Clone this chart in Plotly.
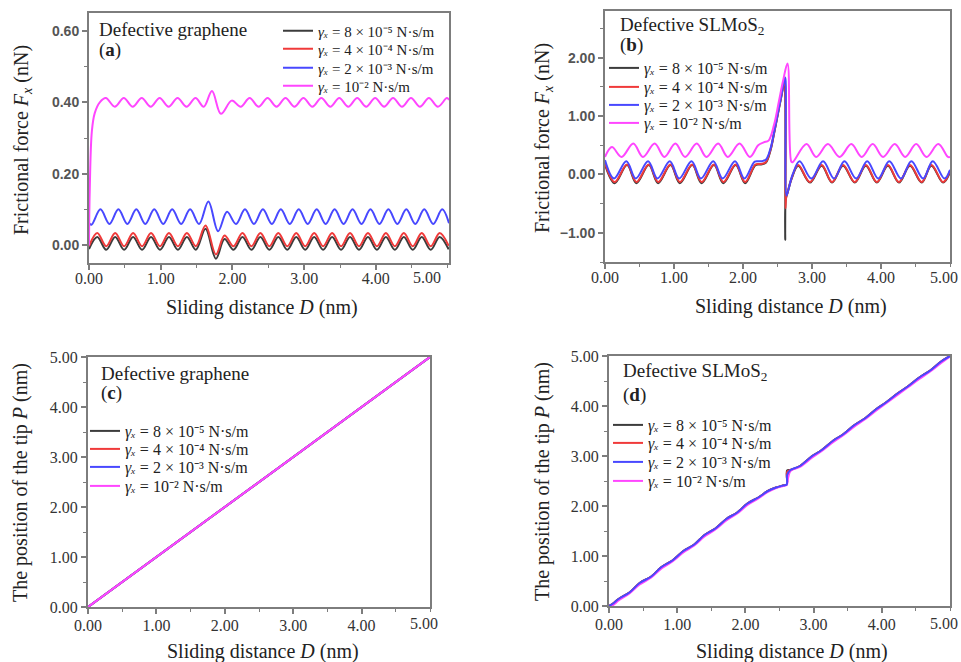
import plotly.graph_objects as go

# ---------------- data ----------------
LEGEND_NAMES = [
    "<i>γₓ</i> = 8 × 10⁻⁵ N·s/m",
    "<i>γₓ</i> = 4 × 10⁻⁴ N·s/m",
    "<i>γₓ</i> = 2 × 10⁻³ N·s/m",
    "<i>γₓ</i> = 10⁻² N·s/m",
]
COLORS = ["#3c3c3c", "#f03a3a", "#4848ff", "#ff46ff"]

X_TICKS = [0, 1, 2, 3, 4]
X_TICK_TEXT = ["0.00", "1.00", "2.00", "3.00", "4.00"]
LAST_X_TICK = "5.00"

# (a) defective graphene, frictional force
a_rb_x = [0.0, 0.115, 0.24, 0.365, 0.49, 0.615, 0.74, 0.865, 0.99, 1.115, 1.24, 1.365, 1.49,
          1.625, 1.77, 1.89, 2.015, 2.14, 2.265, 2.39, 2.515, 2.64, 2.765, 2.89, 3.015, 3.14,
          3.265, 3.39, 3.515, 3.64, 3.765, 3.89, 4.015, 4.14, 4.265, 4.39, 4.515, 4.64, 4.765,
          4.89, 5.015]
a_black_y = [-0.010, 0.024, -0.012, 0.024, -0.012, 0.024, -0.012, 0.024, -0.012, 0.024, -0.012,
             0.024, -0.012, 0.047, -0.037, 0.018, -0.012, 0.024, -0.012, 0.024, -0.012, 0.024,
             -0.012, 0.024, -0.012, 0.024, -0.012, 0.024, -0.012, 0.024, -0.012, 0.024, -0.012,
             0.024, -0.012, 0.024, -0.012, 0.024, -0.012, 0.024, -0.011]
a_red_y = [-0.002, 0.035, -0.002, 0.035, -0.002, 0.035, -0.002, 0.035, -0.002, 0.035, -0.002,
           0.035, -0.002, 0.056, -0.025, 0.028, -0.002, 0.035, -0.002, 0.035, -0.002, 0.035,
           -0.002, 0.035, -0.002, 0.035, -0.002, 0.035, -0.002, 0.035, -0.002, 0.035, -0.002,
           0.035, -0.002, 0.035, -0.002, 0.035, -0.002, 0.035, -0.001]
a_blue_x = [0.0, 0.035, 0.16, 0.285, 0.41, 0.535, 0.66, 0.785, 0.91, 1.035, 1.16, 1.285, 1.41,
            1.535, 1.665, 1.80, 1.925, 2.05, 2.175, 2.30, 2.425, 2.55, 2.675, 2.80, 2.925, 3.05,
            3.175, 3.30, 3.425, 3.55, 3.675, 3.80, 3.925, 4.05, 4.175, 4.30, 4.425, 4.55, 4.675,
            4.80, 4.925, 5.02]
a_blue_y = [0.062, 0.058, 0.101, 0.060, 0.101, 0.060, 0.101, 0.060, 0.101, 0.060, 0.101, 0.060,
            0.101, 0.060, 0.123, 0.040, 0.094, 0.060, 0.101, 0.060, 0.101, 0.060, 0.101, 0.060,
            0.101, 0.060, 0.101, 0.060, 0.101, 0.060, 0.101, 0.060, 0.101, 0.060, 0.101, 0.060,
            0.101, 0.060, 0.101, 0.060, 0.101, 0.062]
a_pink_x = [0.0, 0.01, 0.04, 0.08, 0.15, 0.235, 0.36, 0.485, 0.61, 0.735, 0.86, 0.985, 1.11,
            1.235, 1.36, 1.485, 1.60, 1.715, 1.84, 1.99, 2.115, 2.24, 2.365, 2.49, 2.615, 2.74,
            2.865, 2.99, 3.115, 3.24, 3.365, 3.49, 3.615, 3.74, 3.865, 3.99, 4.115, 4.24, 4.365,
            4.49, 4.615, 4.74, 4.865, 4.99, 5.02]
a_pink_y = [0.0, 0.15, 0.32, 0.37, 0.40, 0.412, 0.388, 0.412, 0.388, 0.412, 0.388, 0.412, 0.388,
            0.412, 0.388, 0.412, 0.388, 0.432, 0.368, 0.405, 0.388, 0.412, 0.388, 0.412, 0.388,
            0.412, 0.388, 0.412, 0.388, 0.412, 0.388, 0.412, 0.388, 0.412, 0.388, 0.412, 0.388,
            0.412, 0.388, 0.412, 0.388, 0.412, 0.388, 0.412, 0.407]

# (b) defective SLMoS2, frictional force
b_black_x = [0.0, 0.14, 0.32, 0.455, 0.635, 0.77, 0.95, 1.085, 1.265, 1.40, 1.58, 1.715, 1.895,
             2.03, 2.18, 2.26, 2.33, 2.40, 2.45, 2.50, 2.55, 2.60, 2.607, 2.612, 2.62, 2.65,
             2.70, 2.80, 2.97, 3.14, 3.29, 3.45, 3.62, 3.78, 3.94, 4.10, 4.26, 4.42, 4.59, 4.73,
             4.90, 5.0]
b_black_y = [0.17, -0.15, 0.16, -0.15, 0.16, -0.15, 0.16, -0.15, 0.16, -0.15, 0.16, -0.15, 0.16,
             -0.15, 0.16, 0.17, 0.20, 0.42, 0.70, 1.00, 1.30, 1.58, 1.55, -1.12, -0.42, -0.30,
             -0.09, 0.15, -0.14, 0.15, -0.14, 0.15, -0.14, 0.15, -0.14, 0.15, -0.14, 0.15, -0.14,
             0.15, -0.14, 0.04]
b_red_x = [0.0, 0.14, 0.32, 0.455, 0.635, 0.77, 0.95, 1.085, 1.265, 1.40, 1.58, 1.715, 1.895,
           2.03, 2.18, 2.26, 2.33, 2.40, 2.45, 2.50, 2.55, 2.60, 2.61, 2.616, 2.625, 2.65, 2.70,
           2.80, 2.97, 3.14, 3.29, 3.45, 3.62, 3.78, 3.94, 4.10, 4.26, 4.42, 4.59, 4.73, 4.90, 5.0]
b_red_y = [0.19, -0.13, 0.17, -0.13, 0.17, -0.13, 0.17, -0.13, 0.17, -0.13, 0.17, -0.13, 0.17,
           -0.13, 0.17, 0.18, 0.21, 0.43, 0.71, 1.01, 1.31, 1.60, 1.55, -0.58, -0.40, -0.29, -0.08,
           0.16, -0.13, 0.16, -0.13, 0.16, -0.13, 0.16, -0.13, 0.16, -0.13, 0.16, -0.13, 0.16,
           -0.13, 0.06]
b_blue_x = [0.0, 0.13, 0.31, 0.445, 0.625, 0.76, 0.94, 1.075, 1.255, 1.39, 1.57, 1.705, 1.885,
            2.02, 2.17, 2.25, 2.33, 2.40, 2.45, 2.50, 2.55, 2.61, 2.618, 2.63, 2.66, 2.72, 2.82,
            2.99, 3.16, 3.32, 3.47, 3.64, 3.80, 3.96, 4.12, 4.29, 4.44, 4.61, 4.75, 4.92, 5.0]
b_blue_y = [0.245, -0.07, 0.225, -0.07, 0.225, -0.07, 0.225, -0.07, 0.225, -0.07, 0.225, -0.07,
            0.225, -0.07, 0.22, 0.225, 0.25, 0.45, 0.72, 1.02, 1.32, 1.66, 1.60, -0.36, -0.25,
            0.0, 0.225, -0.07, 0.225, -0.07, 0.225, -0.07, 0.225, -0.07, 0.225, -0.07, 0.225,
            -0.07, 0.225, -0.07, 0.08]
b_pink_x = [0.0, 0.10, 0.24, 0.41, 0.55, 0.72, 0.86, 1.02, 1.16, 1.33, 1.47, 1.64, 1.78, 1.95,
            2.10, 2.22, 2.30, 2.37, 2.45, 2.52, 2.58, 2.645, 2.70, 2.72, 2.92, 3.06, 3.23, 3.40,
            3.57, 3.72, 3.88, 4.03, 4.20, 4.35, 4.51, 4.66, 4.83, 4.97, 5.0]
b_pink_y = [0.30, 0.47, 0.30, 0.53, 0.30, 0.53, 0.30, 0.53, 0.30, 0.53, 0.30, 0.53, 0.30, 0.53,
            0.30, 0.50, 0.55, 0.58, 0.85, 1.25, 1.60, 1.90, 0.22, 0.21, 0.52, 0.30, 0.52, 0.30,
            0.52, 0.30, 0.52, 0.30, 0.52, 0.30, 0.52, 0.30, 0.52, 0.30, 0.30]

# (c) defective graphene, tip position
c_x = [0.0, 5.0]
c_y = [0.0, 5.0]

# (d) defective SLMoS2, tip position
d_x = [0.0, 0.06, 0.14, 0.30, 0.45, 0.62, 0.77, 0.93, 1.09, 1.25, 1.40, 1.56, 1.72, 1.88, 2.03,
       2.19, 2.33, 2.45, 2.55, 2.605, 2.612, 2.66, 2.80, 2.97, 3.12, 3.29, 3.44, 3.60, 3.76,
       3.92, 4.07, 4.24, 4.39, 4.55, 4.71, 4.87, 5.0]
d_black_y = [0.0, 0.05, 0.14, 0.27, 0.46, 0.59, 0.78, 0.91, 1.10, 1.23, 1.42, 1.55, 1.74, 1.87,
             2.05, 2.17, 2.30, 2.37, 2.41, 2.43, 2.71, 2.72, 2.80, 2.99, 3.12, 3.31, 3.44, 3.62,
             3.76, 3.94, 4.08, 4.26, 4.40, 4.57, 4.71, 4.89, 5.0]
d_red_y = [0.0, 0.05, 0.14, 0.27, 0.46, 0.59, 0.78, 0.91, 1.10, 1.23, 1.42, 1.55, 1.74, 1.87,
           2.05, 2.17, 2.30, 2.37, 2.41, 2.43, 2.68, 2.72, 2.80, 2.99, 3.12, 3.31, 3.44, 3.62,
           3.76, 3.94, 4.08, 4.26, 4.40, 4.57, 4.71, 4.89, 5.0]
d_blue_y = [0.0, 0.05, 0.14, 0.27, 0.46, 0.59, 0.78, 0.91, 1.10, 1.23, 1.42, 1.55, 1.74, 1.87,
            2.05, 2.17, 2.30, 2.37, 2.41, 2.43, 2.62, 2.72, 2.80, 2.99, 3.12, 3.31, 3.44, 3.62,
            3.76, 3.94, 4.08, 4.26, 4.40, 4.57, 4.71, 4.89, 5.0]
d_pink_y = [0.0, 0.02, 0.11, 0.25, 0.43, 0.57, 0.75, 0.89, 1.07, 1.21, 1.39, 1.53, 1.71, 1.85,
            2.02, 2.15, 2.28, 2.36, 2.40, 2.42, 2.44, 2.70, 2.78, 2.96, 3.10, 3.28, 3.42, 3.59,
            3.74, 3.91, 4.06, 4.23, 4.38, 4.54, 4.69, 4.86, 4.99]

# ---------------- figure ----------------
W, H = 961, 662
SERIF = "Liberation Serif"
SANS = "Liberation Sans"
AXIS_GRAY = "#7d7d7d"

fig = go.Figure()

# per panel: axes, series (black, red, blue, pink), draw order,
# legend anchor (left x px, row centres px) and legend font size
panels = [
    dict(xa="x", ya="y",
         series=[(a_rb_x, a_black_y), (a_rb_x, a_red_y), (a_blue_x, a_blue_y), (a_pink_x, a_pink_y)],
         order=[0, 1, 2, 3], leg_x=278, rows=[31, 49, 68, 86], leg_size=15),
    dict(xa="x2", ya="y2",
         series=[(b_black_x, b_black_y), (b_red_x, b_red_y), (b_blue_x, b_blue_y), (b_pink_x, b_pink_y)],
         order=[0, 1, 2, 3], leg_x=604, rows=[68, 87, 105, 123], leg_size=16),
    dict(xa="x3", ya="y3",
         series=[(c_x, c_y), (c_x, c_y), (c_x, c_y), (c_x, c_y)],
         order=[0, 1, 2, 3], leg_x=85, rows=[431, 449, 467, 486], leg_size=16),
    dict(xa="x4", ya="y4",
         series=[(d_x, d_black_y), (d_x, d_red_y), (d_x, d_blue_y), (d_x, d_pink_y)],
         order=[0, 1, 3, 2], leg_x=608, rows=[425, 443, 462, 481], leg_size=16),
]

legends = {}
leg_n = 0
for p in panels:
    leg_ids = []
    for idx in range(4):
        leg_n += 1
        lid = "legend" if leg_n == 1 else f"legend{leg_n}"
        leg_ids.append(lid)
        legends[lid] = dict(
            x=p["leg_x"] / W, y=1 - p["rows"][idx] / H, xanchor="left", yanchor="middle",
            bgcolor="rgba(0,0,0,0)", borderwidth=0, itemwidth=30,
            font=dict(family=SERIF, size=p["leg_size"], color="#222222"),
        )
    for idx in p["order"]:
        xs, ys = p["series"][idx]
        fig.add_trace(go.Scatter(
            x=xs, y=ys, mode="lines",
            line=dict(color=COLORS[idx], width=2, shape="spline", smoothing=1.0),
            name=LEGEND_NAMES[idx], legend=leg_ids[idx],
            xaxis=p["xa"], yaxis=p["ya"], hoverinfo="skip",
        ))


def px_dom(a, b):
    return [a / W, b / W]


def py_dom(top, bottom):
    return [1 - bottom / H, 1 - top / H]


def axis(domain, rng, dtick, minor, tickfont, anchor, fmt=".2f"):
    return dict(
        domain=domain, range=rng, anchor=anchor, dtick=dtick, tick0=0, tickformat=fmt,
        automargin=False, ticklabeloverflow="allow",
        showline=True, linecolor=AXIS_GRAY, linewidth=2, mirror=True,
        ticks="outside", ticklen=5, tickwidth=1.5, tickcolor=AXIS_GRAY,
        minor=dict(ticks="outside", ticklen=3, tickwidth=1, tickcolor=AXIS_GRAY, dtick=minor),
        showgrid=False, zeroline=False, tickfont=tickfont,
    )


def xaxis(domain, rng, anchor, standoff):
    ax = axis(domain, rng, 1, 0.5, x_font, anchor)
    ax.update(tickmode="array", tickvals=X_TICKS, ticktext=X_TICK_TEXT,
              ticklabelstandoff=standoff)
    return ax


x_font = dict(family=SERIF, size=16, color="#333333")
y_font_bold = dict(family=SANS, size=14, color="#555555", weight="bold")
y_font_serif = dict(family=SERIF, size=16, color="#333333")

fig.update_layout(
    width=W, height=H,
    margin=dict(l=0, r=0, t=0, b=0, autoexpand=False),
    paper_bgcolor="white", plot_bgcolor="white",
    font=dict(family=SERIF, color="#222222"),
    showlegend=True,
    xaxis=xaxis(px_dom(89, 449), [0, 5.02], "y", -5),
    yaxis=axis(py_dom(13, 263), [-0.049, 0.65], 0.2, 0.1, y_font_bold, "x"),
    xaxis2=xaxis(px_dom(605, 950), [0, 5.0], "y2", -5),
    yaxis2=axis(py_dom(11, 262), [-1.5, 2.8], 1, 0.5, y_font_bold, "x2"),
    xaxis3=xaxis(px_dom(88, 430), [0, 5.0], "y3", -2),
    yaxis3=axis(py_dom(357, 607), [0, 5.0], 1, 0.5, y_font_serif, "x3"),
    xaxis4=xaxis(px_dom(609, 950), [0, 5.0], "y4", -2),
    yaxis4=axis(py_dom(356, 606), [0, 5.0], 1, 0.5, y_font_serif, "x4"),
)
fig.update_layout(legends)

# last x tick label of each panel, kept inside the page edge
for right_px, mid_px in [(443, 278), (960, 278), (440, 623), (960, 623)]:
    fig.add_annotation(x=right_px / W, y=1 - mid_px / H, xref="paper", yref="paper",
                       text=LAST_X_TICK, showarrow=False, xanchor="right", yanchor="middle",
                       font=x_font)

ann_font = dict(family=SERIF, size=19, color="#222222")
title_font = dict(family=SERIF, size=20, color="#222222")
labels = [
    (97, 29, "Defective graphene"),
    (97, 50, "(<b>a</b>)"),
    (618, 26, "Defective SLMoS<sub>2</sub>"),
    (618, 45, "(<b>b</b>)"),
    (99, 373, "Defective graphene"),
    (99, 393, "(<b>c</b>)"),
    (621, 372, "Defective SLMoS<sub>2</sub>"),
    (621, 395, "(<b>d</b>)"),
]
for x, y, t in labels:
    fig.add_annotation(x=x / W, y=1 - y / H, xref="paper", yref="paper",
                       text=t, showarrow=False, xanchor="left", yanchor="middle",
                       font=ann_font)

titles = [
    (262, 307, "Sliding distance <i>D</i> (nm)", 0),
    (791, 306, "Sliding distance <i>D</i> (nm)", 0),
    (263, 651, "Sliding distance <i>D</i> (nm)", 0),
    (792, 651, "Sliding distance <i>D</i> (nm)", 0),
    (22, 140, "Frictional force <i>F<sub>x</sub></i> (nN)", -90),
    (543, 138, "Frictional force <i>F<sub>x</sub></i> (nN)", -90),
    (20, 483, "The position of the tip <i>P</i> (nm)", -90),
    (542, 482, "The position of the tip <i>P</i> (nm)", -90),
]
for x, y, t, ang in titles:
    fig.add_annotation(x=x / W, y=1 - y / H, xref="paper", yref="paper", text=t,
                       showarrow=False, xanchor="center", yanchor="middle",
                       textangle=ang, font=title_font)

fig.write_html("out.html")
